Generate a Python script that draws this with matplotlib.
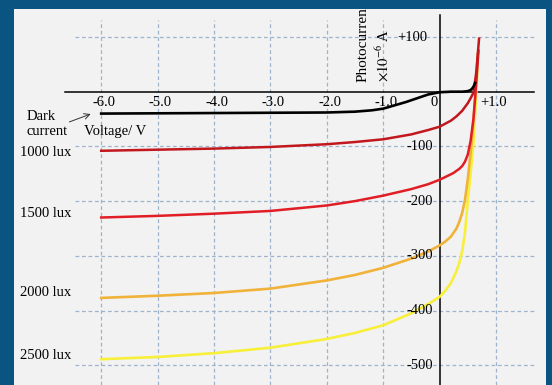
import matplotlib
matplotlib.use('Agg')
import matplotlib.pyplot as plt

plt.rcParams['font.family'] = ['Liberation Serif', 'DejaVu Serif']
plt.rcParams['mathtext.fontset'] = 'stix'

# photocurrent (x10^-6 A) against bias voltage (V)
dark_v = [-6, -5, -4, -3, -2, -1.5, -1.2, -1.0, -0.8, -0.6, -0.4, -0.2, 0, 0.2, 0.4, 0.5, 0.55, 0.58, 0.61, 0.63]
dark_i = [-40, -39.5, -39, -38.5, -38, -36.5, -34, -31, -25, -19, -12, -5, -1, 0, 0, 1, 3, 6, 11, 16]

v_1000 = [-6, -5, -4, -3, -2, -1.5, -1, -0.5, -0.2, 0, 0.2, 0.3, 0.4, 0.5, 0.55, 0.6, 0.65, 0.7]
i_1000 = [-108, -106, -104, -101, -96, -92, -87, -78, -70, -64, -53, -45, -35, -21, -12, -2, 35, 97]

v_1500 = [-6, -5, -4, -3, -2, -1.5, -1, -0.5, -0.2, 0, 0.24, 0.35, 0.4, 0.45, 0.5, 0.55, 0.6, 0.63, 0.66, 0.69]
i_1500 = [-230, -227, -223, -218, -208, -200, -190, -178, -169, -161, -149, -141, -136, -128, -115, -90, -50, -12, 30, 75]

v_2000 = [-6, -5, -4, -3, -2, -1.5, -1, -0.5, -0.2, 0, 0.1, 0.2, 0.3, 0.35, 0.4, 0.45, 0.5, 0.55, 0.6, 0.63, 0.66, 0.68]
i_2000 = [-377, -373, -368, -360, -345, -335, -322, -305, -292, -281, -274, -265, -250, -238, -222, -198, -160, -112, -55, -10, 40, 70]

v_2500 = [-6, -5, -4, -3, -2, -1.5, -1, -0.5, -0.2, 0, 0.1, 0.2, 0.3, 0.35, 0.4, 0.45, 0.5, 0.55, 0.6, 0.63, 0.66, 0.67]
i_2500 = [-489, -485, -478, -468, -452, -441, -427, -405, -388, -375, -364, -350, -328, -313, -292, -258, -200, -150, -94, -40, 15, 40]

x_ticks = [-6.0, -5.0, -4.0, -3.0, -2.0, -1.0, 1.0]
x_tick_labels = ['-6.0', '-5.0', '-4.0', '-3.0', '-2.0', '-1.0', '+1.0']
y_ticks = [100, -100, -200, -300, -400, -500]
y_tick_labels = ['+100', '-100', '-200', '-300', '-400', '-500']

lux_labels = ['1000 lux', '1500 lux', '2000 lux', '2500 lux']
lux_label_y = [-112, -222, -368, -483]

fig = plt.figure(figsize=(5.52, 3.85), dpi=100, facecolor='#0a5482')
ax = fig.add_axes([14 / 552, 0, 532 / 552, 376 / 385])
ax.set_facecolor('#f2f2f2')
ax.set_xlim(-7.546, 1.887)
ax.set_ylim(-536.2, 151.2)
ax.set_xticks([])
ax.set_yticks([])
for s in ax.spines.values():
    s.set_visible(False)

grid_kw = dict(color='#9fb3cc', lw=0.9, linestyle=(0, (3, 2.2)), zorder=1)
ax.hlines(y_ticks, -6.465, 1.69, **grid_kw)
ax.vlines(x_ticks, -536.2, 131, **grid_kw)

# axes through the origin
ax.plot([-6.64, 1.673], [0, 0], color='black', lw=1.1, zorder=2)
ax.plot([0, 0], [-536.2, 140], color='black', lw=1.1, zorder=2)

ax.plot(v_2500, i_2500, color='#f7ef3a', lw=1.9, zorder=3)
ax.plot(v_2000, i_2000, color='#f0b238', lw=1.9, zorder=3)
ax.plot(v_1500, i_1500, color='#e11d25', lw=1.8, zorder=4)
ax.plot(v_1000, i_1000, color='#c2171d', lw=1.8, zorder=4)
ax.plot(dark_v, dark_i, color='black', lw=1.9, zorder=5)

fs = 10.5
for v, lab in zip(x_ticks, x_tick_labels):
    ax.text(v + 0.05 if v < 0 else v - 0.04, -19, lab, ha='center', va='center', fontsize=fs)
ax.text(-0.1, -19, '0', ha='center', va='center', fontsize=fs)
for y, lab in zip(y_ticks, y_tick_labels):
    ax.text(-0.117 if y < 0 else -0.22, y, lab, ha='right', va='center', fontsize=fs)

ax.text(-1.356, 17.7, 'Photocurrent', rotation=90, ha='center', va='bottom',
        fontsize=fs + 0.5, clip_on=True)
ax.text(-1.0, 17.7, r'$\times10^{-6}$ A', rotation=90, ha='center', va='bottom', fontsize=fs)

ax.text(-7.07, -46, 'Dark', ha='center', va='center', fontsize=fs)
ax.text(-6.96, -72, 'current', ha='center', va='center', fontsize=fs)
ax.text(-5.76, -72, 'Voltage/ V', ha='center', va='center', fontsize=fs)
ax.annotate('', xy=(-6.14, -39), xytext=(-6.61, -57),
            arrowprops=dict(arrowstyle='->', lw=0.7, color='#333333'))

for y, lab in zip(lux_label_y, lux_labels):
    ax.text(-6.98, y, lab, ha='center', va='center', fontsize=fs)

plt.savefig('out.png', dpi=100, facecolor=fig.get_facecolor())
